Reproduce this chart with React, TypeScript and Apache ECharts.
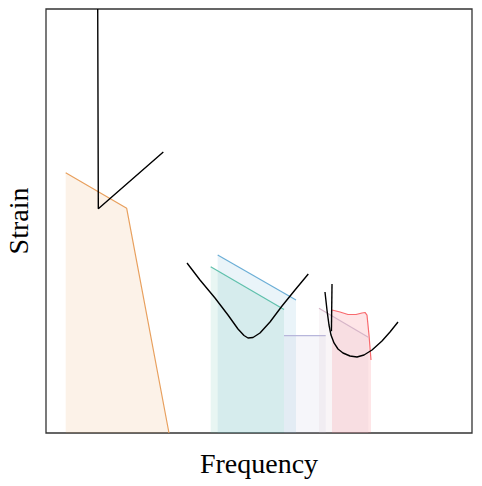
import React, { useEffect, useRef } from "react";
import * as echarts from "echarts";

// Data in axis units (x: 0..100 frequency, y: 0..100 strain)
const orangeBand: [number, number][] = [[4.62, 61.4], [18.94, 53.0], [28.87, 0]];
const blueBand: [number, number][] = [[40.3, 42.0], [58.69, 31.37]];
const tealBand: [number, number][] = [[38.66, 39.22], [55.87, 29.13]];
const lavenderBand: [number, number][] = [[55.87, 22.95], [65.66, 22.95]];
const mauveBand: [number, number][] = [[64.08, 29.41], [75.66, 22.57]];
const redBand: [number, number][] = [
  [67.14, 29.0], [69.01, 28.54], [70.89, 27.95], [72.77, 27.95], [74.18, 28.3],
  [74.88, 28.42], [75.35, 27.83], [75.82, 23.11], [76.29, 17.22],
];
const blackKink: [number, number][] = [[12.14, 100], [12.28, 52.9], [27.54, 66.27]];
const blackV: [number, number][] = [
  [33.1, 40.09], [36.15, 36.08], [39.67, 31.84], [42.72, 27.83], [45.07, 24.53],
  [46.48, 23.0], [47.42, 22.41], [48.59, 22.52], [50.23, 23.58], [52.58, 26.18],
  [55.4, 29.95], [58.45, 33.73], [61.57, 37.5],
];
const blackU: [number, number][] = [
  [65.49, 33.25], [65.96, 29.0], [66.43, 25.47], [66.9, 23.11], [67.61, 21.23],
  [68.54, 19.81], [69.72, 18.87], [71.36, 18.16], [73.0, 17.92], [74.65, 18.4],
  [76.53, 19.58], [78.87, 21.7], [80.75, 23.82], [82.63, 26.18],
];
const blackSpike: [number, number][] = [[67.14, 35.14], [67.0, 24.0]];

const xName = "Frequency";
const yName = "Strain";

function band(data: [number, number][], stroke: string, fill: string, z: number) {
  return {
    type: "line",
    data,
    symbol: "none",
    smooth: false,
    z,
    lineStyle: { color: stroke, width: 1.2 },
    areaStyle: { color: fill, origin: "start" },
  };
}

function curve(data: [number, number][], z: number) {
  return {
    type: "line",
    data,
    symbol: "none",
    smooth: false,
    z,
    lineStyle: { color: "#000000", width: 1.4 },
  };
}

export default function App() {
  const ref = useRef<HTMLDivElement>(null);
  useEffect(() => {
    const chart = echarts.init(ref.current!, undefined, { renderer: "svg" });
    chart.setOption({
      animation: false,
      backgroundColor: "#ffffff",
      grid: {
        left: 46,
        top: 9,
        right: 10,
        bottom: 53,
        outerBoundsMode: "none",
        containLabel: false,
        show: true,
        borderColor: "#333333",
        borderWidth: 1.3,
        backgroundColor: "transparent",
      },
      xAxis: {
        type: "value",
        min: 0,
        max: 100,
        name: xName,
        nameLocation: "middle",
        nameGap: 16,
        nameTextStyle: { fontFamily: "Liberation Serif", fontSize: 28, color: "#000" },
        axisLine: { show: false },
        axisTick: { show: false },
        axisLabel: { show: false },
        splitLine: { show: false },
      },
      yAxis: {
        type: "value",
        min: 0,
        max: 100,
        name: yName,
        nameLocation: "middle",
        nameGap: 14,
        nameTextStyle: { fontFamily: "Liberation Serif", fontSize: 28, color: "#000" },
        axisLine: { show: false },
        axisTick: { show: false },
        axisLabel: { show: false },
        splitLine: { show: false },
      },
      series: [
        band(orangeBand, "#e8a05e", "rgba(232,160,94,0.2)", 2),
        band(blueBand, "#6baed6", "rgba(107,174,214,0.2)", 3),
        band(tealBand, "#5fc0ac", "rgba(95,192,172,0.2)", 4),
        band(lavenderBand, "#b7b6db", "rgba(183,182,219,0.18)", 5),
        band(redBand, "#f86a6e", "rgba(248,106,120,0.25)", 6),
        band(mauveBand, "#d6b5c8", "rgba(214,181,200,0.2)", 7),
        curve(blackKink, 10),
        curve(blackV, 10),
        curve(blackU, 10),
        curve(blackSpike, 10),
      ],
    });
    return () => chart.dispose();
  }, []);
  return (
    <div
      ref={ref}
      style={{ position: "fixed", left: 0, top: 0, width: 482, height: 486 }}
    />
  );
}
